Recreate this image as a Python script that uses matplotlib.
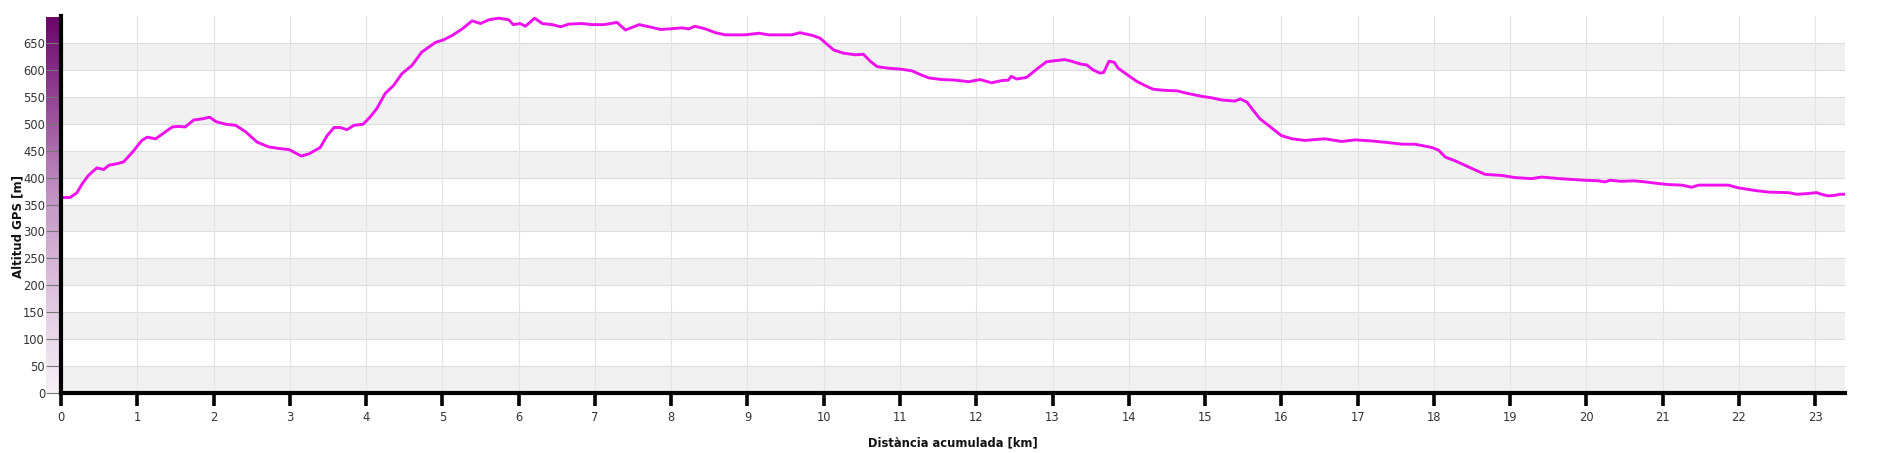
import numpy as np
import matplotlib
matplotlib.use("Agg")
from matplotlib import pyplot as plt
from matplotlib.colors import LinearSegmentedColormap

# altitude profile
dist_km = [0.00, 0.12, 0.21, 0.28, 0.36, 0.47, 0.56, 0.63, 0.71, 0.82, 0.93, 1.06, 1.13, 1.24,
           1.33, 1.46, 1.54, 1.63, 1.74, 1.85, 1.95, 2.03, 2.16, 2.29, 2.42, 2.57, 2.72, 2.86,
           2.99, 3.07, 3.15, 3.25, 3.40, 3.49, 3.58, 3.66, 3.75, 3.84, 3.96, 4.05, 4.14, 4.25,
           4.36, 4.47, 4.60, 4.73, 4.91, 5.02, 5.13, 5.26, 5.39, 5.50, 5.61, 5.74, 5.87, 5.93,
           6.02, 6.09, 6.21, 6.31, 6.44, 6.55, 6.66, 6.83, 6.96, 7.12, 7.29, 7.40, 7.58, 7.71,
           7.86, 7.97, 8.14, 8.23, 8.31, 8.45, 8.58, 8.71, 8.97, 9.15, 9.28, 9.58, 9.69, 9.85,
           9.95, 10.04, 10.13, 10.26, 10.41, 10.52, 10.61, 10.70, 10.85, 11.03, 11.16, 11.27,
           11.38, 11.55, 11.72, 11.90, 12.05, 12.20, 12.33, 12.42, 12.46, 12.53, 12.66, 12.79,
           12.92, 13.03, 13.16, 13.25, 13.36, 13.45, 13.53, 13.62, 13.67, 13.74, 13.81, 13.86,
           13.97, 14.10, 14.21, 14.32, 14.47, 14.63, 14.78, 14.95, 15.09, 15.22, 15.39, 15.46,
           15.55, 15.63, 15.72, 15.83, 16.00, 16.14, 16.31, 16.57, 16.79, 16.97, 17.18, 17.40,
           17.58, 17.75, 17.97, 18.06, 18.15, 18.28, 18.45, 18.67, 18.89, 19.06, 19.28, 19.41,
           19.65, 19.76, 19.98, 20.16, 20.24, 20.31, 20.46, 20.62, 20.77, 20.94, 21.08, 21.25,
           21.38, 21.47, 21.86, 21.99, 22.21, 22.39, 22.65, 22.76, 22.87, 23.02, 23.08, 23.17,
           23.26, 23.32, 23.38]
alt_m = [363, 363, 372, 389, 404, 418, 415, 423, 425, 429, 446, 469, 475, 472,
         481, 494, 495, 494, 507, 509, 512, 504, 499, 497, 485, 466, 457, 454,
         452, 446, 440, 444, 456, 478, 493, 493, 489, 497, 499, 512, 528, 556,
         571, 593, 608, 633, 651, 656, 664, 676, 691, 686, 693, 696, 693, 684,
         686, 681, 696, 686, 684, 680, 685, 686, 684, 684, 688, 674, 684, 680,
         675, 676, 678, 676, 681, 676, 669, 665, 665, 668, 665, 665, 669, 664,
         659, 648, 637, 631, 628, 629, 616, 606, 603, 601, 598, 591,
         585, 582, 581, 578, 582, 576, 580, 581, 588, 583, 586, 601,
         615, 617, 619, 616, 611, 609, 600, 594, 595, 616, 614, 603,
         592, 579, 571, 564, 562, 561, 556, 551, 548, 544, 542, 546,
         540, 525, 509, 497, 478, 472, 469, 472, 467, 470, 468, 465,
         462, 462, 456, 451, 438, 431, 420, 406, 404, 400, 398, 401,
         398, 397, 395, 394, 392, 395, 393, 394, 392, 389, 387, 386,
         382, 386, 386, 381, 376, 373, 372, 369, 370, 372, 369, 366,
         367, 369, 369]

x_max = 23.39
y_max = 700
y_ticks = list(range(0, 700, 50))
x_ticks = list(range(0, 24))

W, H = 1877, 453
fig = plt.figure(figsize=(W / 100, H / 100), dpi=100)
fig.patch.set_facecolor("white")

left, right, top, bottom = 61, 1845, 16, 393
ax_rect = [left / W, 1 - bottom / H, (right - left) / W, (bottom - top) / H]

# purple gradient strip next to the y axis
gax = fig.add_axes([46 / W, 1 - bottom / H, 13 / W, (bottom - 17) / H])
cmap = LinearSegmentedColormap.from_list("purp", ["#f8f2f8", "#c79ac7", "#6a046a"])
grad = np.linspace(0, 1, 256).reshape(-1, 1)
gax.imshow(grad, aspect="auto", cmap=cmap, origin="lower", extent=[0, 1, 0, 1])
gax.axis("off")

ax = fig.add_axes(ax_rect, zorder=3)
ax.set_xlim(0, x_max)
ax.set_ylim(0, y_max)

# alternating bands
for i, y0 in enumerate(range(0, y_max, 50)):
    if i % 2 == 0:
        ax.axhspan(y0, y0 + 50, color="#f1f1f1", zorder=0, lw=0)
for y0 in range(50, y_max, 50):
    ax.axhline(y0, color="#dedede", lw=0.8, zorder=0.5)
for xv in x_ticks[1:]:
    ax.axvline(xv, color="#e3e3e3", lw=0.8, zorder=0.6)

ax.plot(dist_km, alt_m, color="#ee11ee", lw=2.1, zorder=3, solid_joinstyle="round")
ax.axhline(0, color="#3a0a3a", lw=2, zorder=4)

for s in ["top", "right"]:
    ax.spines[s].set_visible(False)
ax.spines["left"].set_linewidth(3)
ax.spines["bottom"].set_linewidth(3)
ax.spines["left"].set_zorder(5)
ax.spines["bottom"].set_zorder(5)

ax.set_xticks(x_ticks)
ax.set_yticks(y_ticks)
ax.tick_params(axis="x", direction="out", length=9, width=2.6, color="black",
               labelsize=8.3, labelcolor="#333333", pad=4)
ax.tick_params(axis="y", direction="out", length=10.5, width=0.8, color="#777777",
               labelsize=8.3, labelcolor="#333333", pad=1)

fig.text(953 / W, 1 - 443 / H, "Distància acumulada [km]", ha="center", va="center",
         fontsize=8.3, fontweight="bold", color="#111111")
fig.text(18 / W, 1 - 226 / H, "Altitud GPS [m]", ha="center", va="center", rotation=90,
         fontsize=8.5, fontweight="bold", color="#111111", zorder=10)

fig.savefig("out.png", dpi=100)
